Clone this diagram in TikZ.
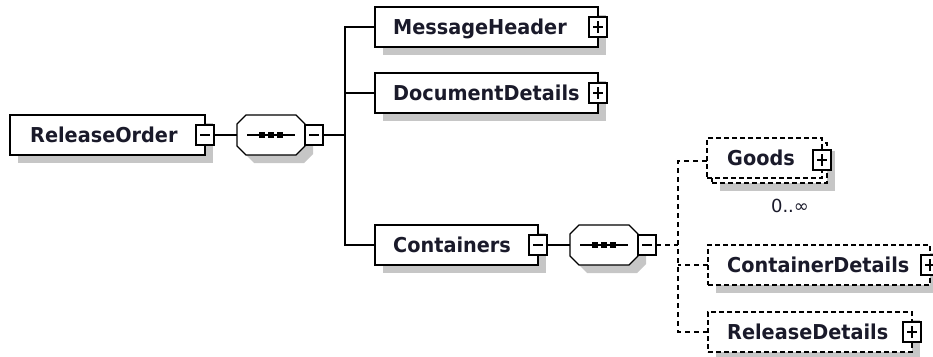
\documentclass[tikz,border=0pt]{standalone}
\usepackage{fontspec}
\setmainfont{DejaVu Sans}
\newfontfamily\elemfont{DejaVu Sans}[FakeStretch=0.94]
\usetikzlibrary{backgrounds}
\definecolor{shadowgray}{HTML}{C6C6C6}
\definecolor{inkblack}{HTML}{1A1A2A}
\tikzset{
  elem/.style={draw=black, fill=white, line width=1.3pt, minimum height=40pt, inner sep=0pt, outer sep=0pt},
  optelem/.style={elem, line width=1.2pt, dash pattern=on 5pt off 3pt},
  elemname/.style={font=\elemfont\fontsize{20.5}{24}\selectfont\bfseries, text=inkblack, anchor=west, inner sep=0pt, text height=14.9pt, text depth=0pt},
  togbox/.style={draw=black, fill=white, line width=1.2pt, minimum width=18pt, minimum height=20pt, inner sep=0pt, outer sep=0pt},
  minustog/.style={togbox, path picture={\draw[line width=1.2pt] ([xshift=4pt]path picture bounding box.west) -- ([xshift=-4pt]path picture bounding box.east);}},
  plustog/.style={togbox, path picture={\draw[line width=1.2pt] ([xshift=4pt]path picture bounding box.west) -- ([xshift=-4pt]path picture bounding box.east); \draw[line width=1.2pt] ([yshift=4pt]path picture bounding box.south) -- ([yshift=-4pt]path picture bounding box.north);}},
  seqslot/.style={minimum width=68pt, minimum height=40pt, inner sep=0pt, outer sep=0pt},
  seqoutline/.style={draw=black, fill=white, line width=1.3pt},
  conn/.style={line width=1.2pt},
  optconn/.style={conn, dash pattern=on 5pt off 4pt},
  dot/.style={fill=black, minimum size=6pt, inner sep=0pt, outer sep=0pt},
  occurs/.style={font=\fontsize{18}{20}\selectfont, text=inkblack, inner sep=0pt},
}
\newcommand\octpath[3]{([shift={(#2+9pt,#3)}]#1.north west) -- ([shift={(#2-9pt,#3)}]#1.north east) -- ([shift={(#2,#3-9pt)}]#1.north east) -- ([shift={(#2,#3+9pt)}]#1.south east) -- ([shift={(#2-9pt,#3)}]#1.south east) -- ([shift={(#2+9pt,#3)}]#1.south west) -- ([shift={(#2,#3+9pt)}]#1.south west) -- ([shift={(#2,#3-9pt)}]#1.north west) -- cycle}
\newcommand\boxshadow[1]{\fill[shadowgray] ([shift={(8pt,-8pt)}]#1.north west) rectangle ([shift={(8pt,-8pt)}]#1.south east);}
\begin{document}
\begin{tikzpicture}[x=1pt,y=-1pt]
\useasboundingbox (0,0) rectangle (933,356);
\clip (0,0) rectangle (933,356);

% ---- root element
\node[elem, minimum width=195pt] (ro) at (107.5,135) {};
\node[elemname] (rot) at ([xshift=20pt]ro.west) {ReleaseOrder};
\node[minustog] (tro) at (ro.east) {};

% ---- first sequence
\node[seqslot] (sq1) at (271,135) {};
\draw[seqoutline] \octpath{sq1}{0pt}{0pt};
\draw[conn] ([xshift=10pt]sq1.west) -- ([xshift=-10pt]sq1.east);
\node[dot] (sq1a) at ([xshift=-9pt]sq1.center) {};
\node[dot] (sq1b) at (sq1.center) {};
\node[dot] (sq1c) at ([xshift=9pt]sq1.center) {};
\node[minustog, anchor=west] (tsq1) at (sq1.east) {};

% ---- children of the first sequence
\node[elem, minimum width=223pt] (mh) at (486.5,27) {};
\node[elemname] (mht) at ([xshift=18pt]mh.west) {MessageHeader};
\node[plustog] (tmh) at (mh.east) {};

\node[elem, minimum width=223pt] (dd) at (486.5,93) {};
\node[elemname] (ddt) at ([xshift=18pt]dd.west) {DocumentDetails};
\node[plustog] (tdd) at (dd.east) {};

\node[elem, minimum width=163pt] (ct) at (456.5,245) {};
\node[elemname] (ctt) at ([xshift=18pt]ct.west) {Containers};
\node[minustog] (tct) at (ct.east) {};

% ---- second sequence
\node[seqslot] (sq2) at (604,245) {};
\draw[seqoutline] \octpath{sq2}{0pt}{0pt};
\draw[conn] ([xshift=10pt]sq2.west) -- ([xshift=-10pt]sq2.east);
\node[dot] (sq2a) at ([xshift=-9pt]sq2.center) {};
\node[dot] (sq2b) at (sq2.center) {};
\node[dot] (sq2c) at ([xshift=9pt]sq2.center) {};
\node[minustog, anchor=west] (tsq2) at (sq2.east) {};

% ---- optional children of the second sequence
\node[optelem, minimum width=115pt] (gdb) at (769.5,163) {};
\node[optelem, minimum width=115pt] (gd) at (764.5,158) {};
\node[elemname] (gdt) at ([xshift=20pt]gd.west) {Goods};
\node[plustog] (tgd) at ([yshift=-2pt]gd.east) {};
\node[occurs] (gdocc) at (790,206) {0..∞};

\node[optelem, minimum width=222pt] (cd) at (819,265) {};
\node[elemname] (cdt) at ([xshift=19pt]cd.west) {ContainerDetails};
\node[plustog] (tcd) at (cd.east) {};

\node[optelem, minimum width=204pt] (rd) at (810,332) {};
\node[elemname] (rdt) at ([xshift=19pt]rd.west) {ReleaseDetails};
\node[plustog] (trd) at (rd.east) {};

% ---- connectors
\coordinate (bus) at (345,135);
\coordinate (bus2) at (678,245);
\draw[conn] (tro.east) -- (sq1.west);
\draw[conn] (tsq1.east) -- (bus);
\draw[conn] (mh.west) -| (bus) |- (ct.west);
\draw[conn] (dd.west) -- (dd.west -| bus);
\draw[conn] (tct.east) -- (sq2.west);
\draw[optconn] (tsq2.east) -- (bus2);
\draw[optconn] ([yshift=-3pt]gd.west) -| (bus2) |- (rd.west);
\draw[optconn] (cd.west) -- (cd.west -| bus2);

% ---- shadows
\begin{scope}[on background layer]
\boxshadow{ro}
\boxshadow{mh}
\boxshadow{dd}
\boxshadow{ct}
\boxshadow{gdb}
\boxshadow{cd}
\boxshadow{rd}
\fill[shadowgray] \octpath{sq1}{8pt}{-8pt};
\fill[shadowgray] \octpath{sq2}{8pt}{-8pt};
\end{scope}
\end{tikzpicture}
\end{document}
